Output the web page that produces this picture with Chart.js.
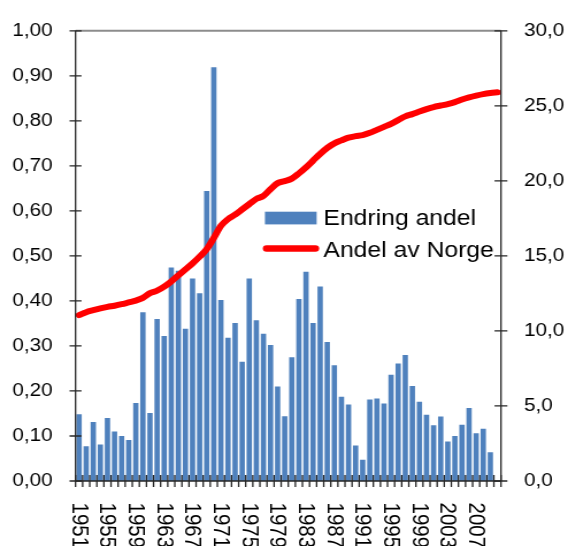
<!DOCTYPE html>
<html>
<head>
<meta charset="utf-8">
<script src="https://cdn.jsdelivr.net/npm/chart.js@4/dist/chart.umd.min.js"></script>
<style>
  html, body { margin: 0; padding: 0; background: #fff; overflow: hidden; }
  #chart { display: block; transform-origin: 0 0; }
</style>
</head>
<body>
<canvas id="chart" width="494" height="546"></canvas>
<script>
var years = [1951, 1952, 1953, 1954, 1955, 1956, 1957, 1958, 1959, 1960,
    1961, 1962, 1963, 1964, 1965, 1966, 1967, 1968, 1969, 1970,
    1971, 1972, 1973, 1974, 1975, 1976, 1977, 1978, 1979, 1980,
    1981, 1982, 1983, 1984, 1985, 1986, 1987, 1988, 1989, 1990,
    1991, 1992, 1993, 1994, 1995, 1996, 1997, 1998, 1999, 2000,
    2001, 2002, 2003, 2004, 2005, 2006, 2007, 2008, 2009, 2010];

// Endring andel (left axis), no bar for 2010
var endringAndel = [0.148, 0.077, 0.131, 0.081, 0.140, 0.110, 0.100, 0.091, 0.173, 0.375,
    0.151, 0.360, 0.322, 0.474, 0.467, 0.338, 0.450, 0.417, 0.644, 0.919,
    0.402, 0.318, 0.351, 0.265, 0.450, 0.357, 0.327, 0.302, 0.210, 0.144,
    0.275, 0.404, 0.465, 0.351, 0.432, 0.309, 0.257, 0.187, 0.170, 0.079,
    0.047, 0.181, 0.183, 0.172, 0.236, 0.261, 0.280, 0.211, 0.176, 0.147,
    0.124, 0.143, 0.088, 0.100, 0.125, 0.162, 0.106, 0.116, 0.064, null];

// Andel av Norge (right axis)
var andelNorge = [11.05, 11.25, 11.38, 11.5, 11.6, 11.68, 11.78, 11.9, 12.02, 12.2,
    12.52, 12.68, 12.95, 13.3, 13.7, 14.1, 14.5, 14.95, 15.45, 16.2,
    17.0, 17.45, 17.75, 18.1, 18.45, 18.8, 19.0, 19.45, 19.85, 19.98,
    20.15, 20.5, 20.9, 21.35, 21.8, 22.2, 22.5, 22.7, 22.88, 22.98,
    23.05, 23.2, 23.4, 23.6, 23.8, 24.05, 24.3, 24.45, 24.62, 24.78,
    24.92, 25.02, 25.12, 25.25, 25.42, 25.56, 25.68, 25.78, 25.85, 25.9];

var leftTicks = { min: 0, max: 1, step: 0.1 };
var rightTicks = { min: 0, max: 30, step: 5 };

// the reference is a horizontally stretched picture, so draw narrower and stretch
var canvas = document.getElementById('chart');
canvas.style.transform = 'scaleX(' + (568 / 494) + ')';

var fontFamily = '"Liberation Sans", Arial, sans-serif';

var axesPlugin = {
    id: 'axesPlugin',
    afterDraw: function(chart) {
        var ctx = chart.ctx,
            a = chart.chartArea,
            sx = chart.scales.x,
            sy = chart.scales.y,
            sy2 = chart.scales.y2;
        ctx.save();

        // top border
        ctx.strokeStyle = '#8c8c8c';
        ctx.lineWidth = 2;
        ctx.beginPath();
        ctx.moveTo(a.left, a.top);
        ctx.lineTo(a.right, a.top);
        ctx.stroke();

        // axis lines
        ctx.strokeStyle = '#262626';
        ctx.lineWidth = 1.3;
        ctx.beginPath();
        ctx.moveTo(a.left, a.top);
        ctx.lineTo(a.left, a.bottom);
        ctx.moveTo(a.right, a.top);
        ctx.lineTo(a.right, a.bottom);
        ctx.moveTo(a.left, a.bottom);
        ctx.lineTo(a.right, a.bottom);
        ctx.stroke();

        // tick marks crossing the axes
        ctx.beginPath();
        sy.ticks.forEach(function(t) {
            var y = sy.getPixelForValue(t.value);
            ctx.moveTo(a.left - 5.2, y);
            ctx.lineTo(a.left + 5.2, y);
        });
        sy2.ticks.forEach(function(t) {
            var y = sy2.getPixelForValue(t.value);
            ctx.moveTo(a.right - 5.6, y);
            ctx.lineTo(a.right + 5.6, y);
        });
        var half = (sx.getPixelForValue(1) - sx.getPixelForValue(0)) / 2;
        for (var i = 0; i <= years.length; i++) {
            var x = sx.getPixelForValue(i) - half;
            ctx.moveTo(x, a.bottom - 6);
            ctx.lineTo(x, a.bottom + 6);
        }
        ctx.stroke();

        // rotated year labels, every 4th year
        ctx.fillStyle = '#000';
        ctx.font = '20.5px ' + fontFamily;
        ctx.textAlign = 'left';
        ctx.textBaseline = 'middle';
        years.forEach(function(yr, i) {
            if (i % 4 !== 0) return;
            ctx.save();
            ctx.translate(sx.getPixelForValue(i) - 0.3, a.bottom + 21.5);
            ctx.rotate(Math.PI / 2);
            ctx.fillText(String(yr), 0, 0);
            ctx.restore();
        });

        // legend
        ctx.fillStyle = '#4f81bd';
        ctx.fillRect(230.4, 211.7, 45, 12.7);
        ctx.strokeStyle = '#ff0000';
        ctx.lineWidth = 6.5;
        ctx.lineCap = 'round';
        ctx.beginPath();
        ctx.moveTo(231.8, 248.5);
        ctx.lineTo(274.3, 248.5);
        ctx.stroke();
        ctx.fillStyle = '#000';
        ctx.font = '21.5px ' + fontFamily;
        ctx.textBaseline = 'alphabetic';
        ctx.fillText('Endring andel', 281.3, 225);
        ctx.fillText('Andel av Norge', 281.3, 256.7);

        ctx.restore();
    }
};

var chart = new Chart(canvas, {
    type: 'bar',
    data: {
        labels: years,
        datasets: [{
            type: 'line',
            label: 'Andel av Norge',
            data: andelNorge,
            yAxisID: 'y2',
            borderColor: '#ff0000',
            borderWidth: 6,
            borderCapStyle: 'round',
            borderJoinStyle: 'round',
            pointRadius: 0,
            cubicInterpolationMode: 'monotone',
            order: 0
        }, {
            type: 'bar',
            label: 'Endring andel',
            data: endringAndel,
            yAxisID: 'y',
            backgroundColor: '#4f81bd',
            borderWidth: 0,
            barPercentage: 0.75,
            categoryPercentage: 1.0,
            order: 1
        }]
    },
    options: {
        responsive: false,
        animation: false,
        layout: {
            padding: { top: 23, left: 0, right: 0, bottom: 0 }
        },
        plugins: {
            legend: { display: false },
            tooltip: { enabled: false }
        },
        scales: {
            x: {
                type: 'category',
                offset: true,
                grid: { display: false, drawTicks: false },
                border: { display: false },
                ticks: { display: false },
                afterFit: function(scale) { scale.height = 65; }
            },
            y: {
                position: 'left',
                min: leftTicks.min,
                max: leftTicks.max,
                grid: { display: false, drawTicks: false, tickLength: 0 },
                border: { display: false },
                ticks: {
                    stepSize: leftTicks.step,
                    padding: 20,
                    color: '#000',
                    font: { family: fontFamily, size: 18 },
                    callback: function(v) { return v.toFixed(2).replace('.', ','); }
                },
                afterFit: function(scale) { scale.width = 65.7; }
            },
            y2: {
                position: 'right',
                min: rightTicks.min,
                max: rightTicks.max,
                grid: { display: false, drawTicks: false, tickLength: 0 },
                border: { display: false },
                ticks: {
                    stepSize: rightTicks.step,
                    padding: 20,
                    color: '#000',
                    font: { family: fontFamily, size: 18 },
                    callback: function(v) { return v.toFixed(1).replace('.', ','); }
                },
                afterFit: function(scale) { scale.width = 58.3; }
            }
        }
    },
    plugins: [axesPlugin]
});
</script>
</body>
</html>
